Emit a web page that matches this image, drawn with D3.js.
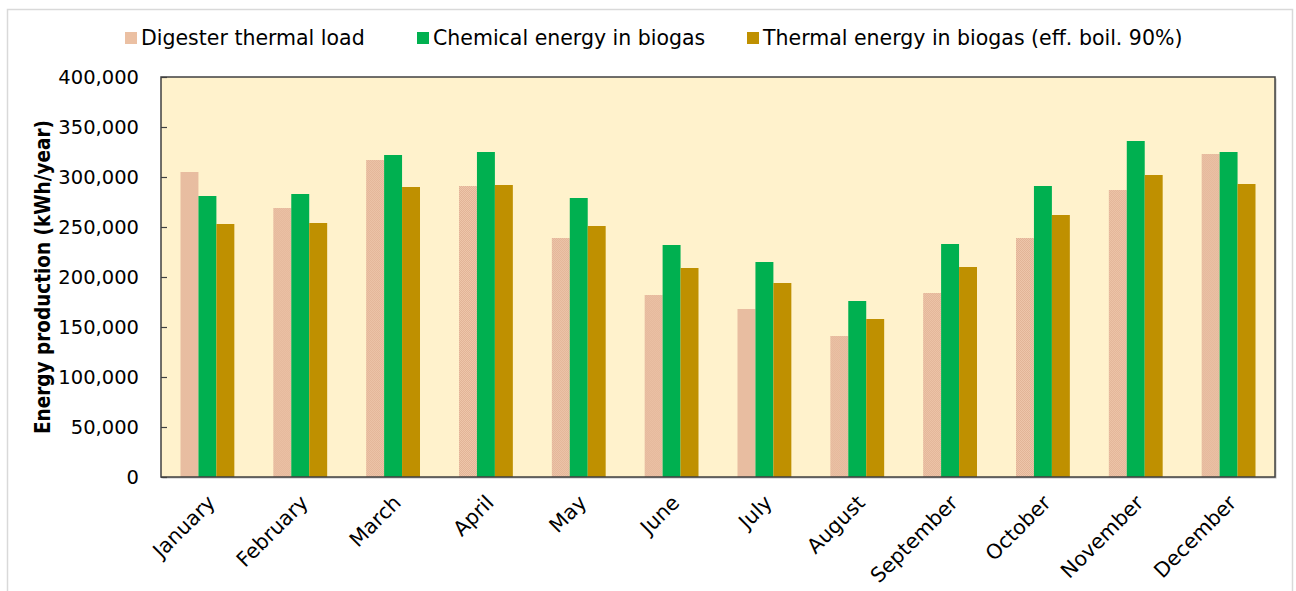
<!DOCTYPE html>
<html>
<head>
<meta charset="utf-8">
<script src="https://cdn.jsdelivr.net/npm/d3@7"></script>
<style>
  html, body { margin: 0; padding: 0; background: #ffffff; }
  svg { display: block; }
  text { font-family: "DejaVu Sans", Verdana, sans-serif; fill: #000; }
</style>
</head>
<body>
<svg id="chart" width="1296" height="591"></svg>
<script>
// Monthly energy balance of the digester
const months = ["January", "February", "March", "April", "May", "June",
                "July", "August", "September", "October", "November", "December"];
const seriesNames = ["Digester thermal load", "Chemical energy in biogas",
                     "Thermal energy in biogas (eff. boil. 90%)"];
const thermalLoad = [305000, 269000, 317000, 291000, 239000, 182000,
                     168000, 141000, 184000, 239000, 287000, 323000];
const chemicalEnergy = [281000, 283000, 322000, 325000, 279000, 232000,
                        215000, 176000, 233000, 291000, 336000, 325000];
const thermalEnergy = [253000, 254000, 290000, 292000, 251000, 209000,
                       194000, 158000, 210000, 262000, 302000, 293000];
const yTicks = [0, 50000, 100000, 150000, 200000, 250000, 300000, 350000, 400000];

const seriesValues = [thermalLoad, chemicalEnergy, thermalEnergy];
const colors = ["url(#dither)", "#00b050", "#bf9000"];
const legendColors = ["#ebc0a3", "#00b050", "#bf9000"];

const svg = d3.select("#chart");

// dithered fill for the thermal-load bars
const defs = svg.append("defs");
const pat = defs.append("pattern").attr("id", "dither")
  .attr("width", 2).attr("height", 2).attr("patternUnits", "userSpaceOnUse");
pat.append("rect").attr("width", 2).attr("height", 2).attr("fill", "#eec6aa");
pat.append("rect").attr("width", 1).attr("height", 1).attr("fill", "#e2b497");
pat.append("rect").attr("x", 1).attr("y", 1).attr("width", 1).attr("height", 1).attr("fill", "#e2b497");

// outer frame
svg.append("rect").attr("x", 7.5).attr("y", 9.5).attr("width", 1285).attr("height", 600)
  .attr("fill", "#fff").attr("stroke", "#d9d9d9").attr("stroke-width", 1.5);

const plot = { left: 161, right: 1275, top: 77, bottom: 477 };

const x = d3.scaleBand().domain(months)
  .range([plot.left, plot.right]).paddingInner(0.42).paddingOuter(0.21);
const x1 = d3.scaleBand().domain(d3.range(3)).range([0, x.bandwidth()]);
const y = d3.scaleLinear().domain([0, 400000]).range([plot.bottom, plot.top]);

// plot background with a soft shadow
svg.append("rect").attr("x", plot.left + 1.5).attr("y", plot.top + 1.5)
  .attr("width", plot.right - plot.left).attr("height", plot.bottom - plot.top)
  .attr("fill", "#bdbdbd");
svg.append("rect").attr("x", plot.left).attr("y", plot.top)
  .attr("width", plot.right - plot.left).attr("height", plot.bottom - plot.top)
  .attr("fill", "#fff2cc");

// bars
const groups = svg.append("g").selectAll("g").data(months).join("g")
  .attr("transform", d => `translate(${x(d)},0)`);
groups.selectAll("rect").data((m, i) => seriesValues.map((s, k) => ({ k, v: s[i] })))
  .join("rect")
  .attr("x", d => x1(d.k))
  .attr("width", x1.bandwidth())
  .attr("y", d => y(d.v))
  .attr("height", d => y(0) - y(d.v))
  .attr("fill", d => colors[d.k]);

// plot frame
svg.append("rect").attr("x", plot.left).attr("y", plot.top)
  .attr("width", plot.right - plot.left).attr("height", plot.bottom - plot.top)
  .attr("fill", "none").attr("stroke", "#404040").attr("stroke-width", 1.5);

// y axis
const yAxis = d3.axisLeft(y).tickValues(yTicks)
  .tickFormat(d3.format(",")).tickSizeInner(-6).tickSizeOuter(0).tickPadding(22);
const ya = svg.append("g").attr("transform", `translate(${plot.left},0)`).call(yAxis);
ya.select(".domain").remove();
ya.selectAll(".tick line").attr("stroke", "#404040").attr("stroke-width", 1.2);
ya.selectAll(".tick text").style("font-size", "19.5px")
  .style("font-family", "'DejaVu Sans', sans-serif").attr("fill", "#000");

// y axis title
svg.append("text")
  .attr("transform", `translate(50,${(plot.top + plot.bottom) / 2}) rotate(-90)`)
  .attr("text-anchor", "middle")
  .style("font-size", "20.5px").style("font-weight", "bold")
  .style("font-family", "'DejaVu Sans Condensed', 'DejaVu Sans', sans-serif")
  .text("Energy production (kWh/year)");

// x axis labels
const xa = svg.append("g").attr("transform", `translate(0,${plot.bottom})`)
  .call(d3.axisBottom(x).tickSize(0).tickPadding(0));
xa.select(".domain").remove();
xa.selectAll(".tick text")
  .attr("text-anchor", "end")
  .attr("dy", 0).attr("y", 0)
  .attr("transform", "translate(9,27) rotate(-45)")
  .style("font-size", "20.5px")
  .style("font-family", "'DejaVu Sans', sans-serif").attr("fill", "#000");

// legend
const legendX = [125, 417, 747];
const legend = svg.append("g").selectAll("g").data(seriesNames).join("g")
  .attr("transform", (d, i) => `translate(${legendX[i]},32)`);
legend.append("rect").attr("width", 12).attr("height", 12)
  .attr("fill", (d, i) => legendColors[i]);
legend.append("text").attr("x", 16).attr("y", 13)
  .style("font-size", "20.5px")
  .text(d => d);
</script>
</body>
</html>
